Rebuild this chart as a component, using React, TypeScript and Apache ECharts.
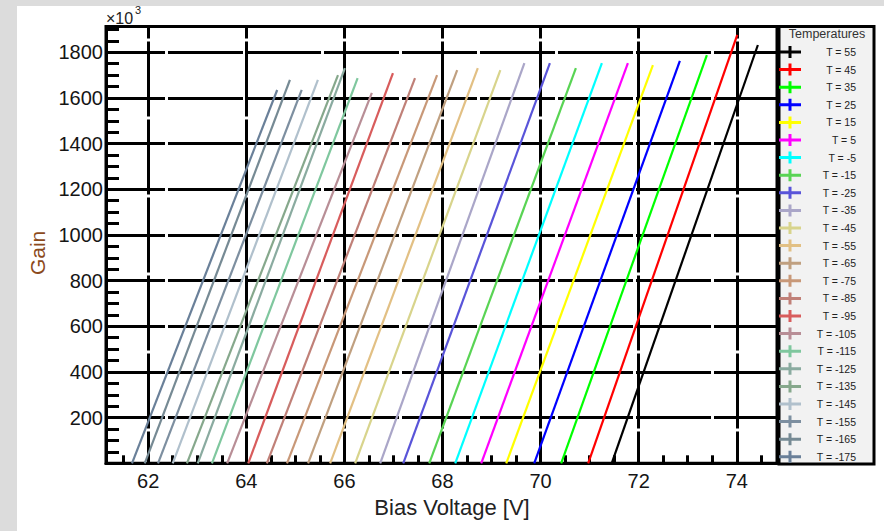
import React, { useEffect, useRef } from "react";
import * as echarts from "echarts";

// Legend labels (temperature of each curve)
const tempLabels = [
  "T = 55", "T = 45", "T = 35", "T = 25", "T = 15", "T = 5", "T = -5", "T = -15",
  "T = -25", "T = -35", "T = -45", "T = -55", "T = -65", "T = -75", "T = -85", "T = -95",
  "T = -105", "T = -115", "T = -125", "T = -135", "T = -145", "T = -155", "T = -165", "T = -175",
];

const lineColors = [
  "#000000", "#ff0000", "#00ff00", "#0000ff", "#ffff00", "#ff00ff", "#00ffff", "#59d454",
  "#5954d9", "#aaa6c8", "#d8d48c", "#e2c084", "#c0a080", "#c89878", "#c08078", "#d85c5c",
  "#b88e96", "#7fc79e", "#8aaba0", "#86a88c", "#b0c0cc", "#7d8fa0", "#768a94", "#6a8099",
];

// Bias voltage [V] where gain reaches 0 (bottom of curve)
const vStart = [
  71.45, 70.97, 70.42, 69.87, 69.30, 68.79, 68.26, 67.73,
  67.20, 66.73, 66.22, 65.71, 65.26, 64.83, 64.42, 64.04,
  63.61, 63.30, 63.01, 62.79, 62.50, 62.20, 61.93, 61.67,
];

// Bias voltage [V] at the last measured point
const vEnd = [
  74.43, 74.01, 73.39, 72.84, 72.29, 71.78, 71.25, 70.72,
  70.19, 69.67, 69.18, 68.72, 68.30, 67.89, 67.44, 66.99,
  66.56, 66.27, 66.01, 65.87, 65.46, 65.13, 64.89, 64.63,
];

// Gain (x10^3) at the last measured point
const gEnd = [
  1832, 1876, 1788, 1762, 1744, 1753, 1753, 1731,
  1753, 1753, 1722, 1731, 1722, 1700, 1687, 1709,
  1622, 1687, 1731, 1700, 1679, 1635, 1679, 1635,
];

const FONT = "'Liberation Sans', Arial, sans-serif";

export default function App() {
  const ref = useRef<HTMLDivElement>(null);

  useEffect(() => {
    document.body.style.margin = "0";
    if (!ref.current) return;
    const chart = echarts.init(ref.current, null, { renderer: "svg" });

    const series = tempLabels.map((name, i) => ({
      name,
      type: "line",
      data: [
        [vStart[i], 0],
        [vEnd[i], gEnd[i]],
      ],
      showSymbol: false,
      symbol: "none",
      clip: true,
      color: lineColors[i],
      lineStyle: { color: lineColors[i], width: 2.2 },
      z: 3,
    }));

    chart.setOption({
      animation: false,
      backgroundColor: "#ffffff",
      textStyle: { fontFamily: FONT },
      grid: {
        left: 106,
        right: 107,
        top: 26.5,
        bottom: 67.7,
        show: true,
        borderColor: "#000",
        borderWidth: 3,
        backgroundColor: "transparent",
      },
      xAxis: {
        type: "value",
        min: 61.14,
        max: 74.82,
        splitNumber: 7,
        name: "Bias Voltage [V]",
        nameLocation: "middle",
        nameGap: 32,
        nameTextStyle: { fontSize: 22, color: "#222", fontFamily: FONT, padding: [0, 0, 0, 21] },
        axisLine: { show: true, lineStyle: { color: "#000", width: 3 } },
        axisTick: { show: true, inside: true, length: 14, lineStyle: { color: "#000", width: 3 } },
        minorTick: { show: true, splitNumber: 4, length: 8, lineStyle: { color: "#000", width: 3 } },
        axisLabel: {
          show: true,
          margin: 8,
          fontSize: 20,
          color: "#151515",
          fontFamily: FONT,
          showMinLabel: false,
          showMaxLabel: false,
          formatter: (v: number) => String(v),
        },
        splitLine: {
          show: true,
          lineStyle: { color: "#000", width: 3, type: [75, 3], dashOffset: 63 },
        },
      },
      yAxis: {
        type: "value",
        min: 0,
        max: 1913,
        interval: 200,
        name: "Gain",
        nameLocation: "middle",
        nameGap: 50,
        nameTextStyle: { fontSize: 21, color: "#8b4a1c", fontFamily: FONT, padding: [0, 16, 0, 0] },
        axisLine: { show: true, lineStyle: { color: "#000", width: 3 } },
        axisTick: { show: true, inside: true, length: 18, lineStyle: { color: "#000", width: 3 } },
        minorTick: { show: true, splitNumber: 4, length: 13, lineStyle: { color: "#000", width: 3 } },
        axisLabel: {
          show: true,
          margin: 3,
          fontSize: 20,
          color: "#151515",
          fontFamily: FONT,
          showMinLabel: false,
          showMaxLabel: false,
          formatter: (v: number) => String(v),
        },
        splitLine: {
          show: true,
          lineStyle: { color: "#000", width: 3, type: [75, 3], dashOffset: 16 },
        },
      },
      legend: {
        orient: "vertical",
        left: 779,
        top: 46,
        padding: 0,
        itemWidth: 22,
        itemHeight: 12,
        itemGap: 5.6,
        icon: "path://M0,4.5h22v3h-22z M9.5,0h3v12h-3z",
        data: tempLabels,
        formatter: (name: string) => `{t|${name}}`,
        textStyle: {
          fontFamily: FONT,
          color: "#222",
          fontSize: 10.5,
          rich: {
            t: { width: 50, align: "right", fontSize: 10.5, lineHeight: 12, color: "#222", fontFamily: FONT },
          },
        },
        z: 6,
      },
      graphic: [
        { type: "rect", z: 1, shape: { x: 0, y: 0, width: 884, height: 6 }, style: { fill: "#dcdcdc" } },
        { type: "rect", z: 1, shape: { x: 0, y: 0, width: 17, height: 531 }, style: { fill: "#dcdcdc" } },
        {
          type: "rect",
          z: 5,
          shape: { x: 779, y: 26.5, width: 95, height: 437.5 },
          style: { fill: "#f2f2f2", stroke: "#000", lineWidth: 3 },
        },
        {
          type: "text",
          z: 6,
          x: 827,
          y: 34,
          style: {
            text: "Temperatures",
            fontSize: 12.5,
            fontFamily: FONT,
            fill: "#333",
            align: "center",
            verticalAlign: "middle",
          },
        },
        {
          type: "text",
          z: 6,
          x: 106,
          y: 18,
          style: { text: "×10", fontSize: 16, fontFamily: FONT, fill: "#222", align: "left", verticalAlign: "middle" },
        },
        {
          type: "text",
          z: 6,
          x: 135,
          y: 10,
          style: { text: "3", fontSize: 11, fontFamily: FONT, fill: "#222", align: "left", verticalAlign: "middle" },
        },
      ],
      series,
    });

    return () => {
      chart.dispose();
    };
  }, []);

  return <div ref={ref} style={{ width: 884, height: 531 }} />;
}
